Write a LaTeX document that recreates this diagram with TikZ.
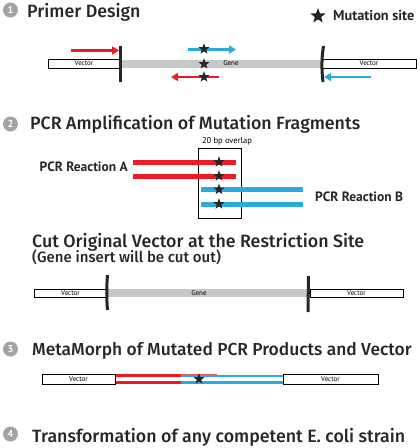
\documentclass[tikz,border=0pt]{standalone}
\usepackage{fontspec}
\setmainfont{PT Sans}
\newfontfamily\titlefont{Fira Sans Medium}
\usetikzlibrary{shapes.geometric,arrows.meta}
\definecolor{pcrred}{HTML}{ED1C24}
\definecolor{pcrblue}{HTML}{29ABE2}
\definecolor{genegray}{HTML}{C8C8C8}
\definecolor{stepgray}{HTML}{A3A3A3}
\tikzset{
	vecbox/.style={draw, line width=0.8pt, fill=white, inner sep=0pt, font=\fontsize{7}{8}\selectfont},
	genebar/.style={fill=genegray, inner sep=0pt},
	genelabel/.style={inner sep=0pt, font=\fontsize{7}{8}\selectfont},
	cutbar/.style={line width=3pt, color=black!85},
	mutstar/.style={star, star points=5, star point ratio=2.4, fill=black!85, inner sep=0pt, minimum size=11.5pt},
	steptitle/.style={anchor=base west, inner sep=0pt, text=black!85, font=\titlefont\fontsize{17.8}{20}\selectfont},
	stepnum/.style={circle, fill=stepgray, text=white, inner sep=0pt, minimum size=15pt, font=\bfseries\fontsize{10}{10}\selectfont},
	primer/.style={line width=2.6pt, -{Triangle[length=7pt,width=8pt]}},
	pcrline/.style={line width=5pt},
	boldlabel/.style={inner sep=0pt, text=black!85, font=\bfseries\fontsize{13.5}{15}\selectfont},
}

\begin{document}
\begin{tikzpicture}[x=1pt, y=-1pt]
			%%%%% START %%%%%
			\useasboundingbox (0, 0) rectangle (420, 448);
			
			% step 1: primer design
			\node[stepnum] (num1) at (10.5, 10) {1};
			\node[steptitle] (title1) at (27, 17) {Primer Design};
			\node[mutstar, minimum size=16pt] (legstar) at (318, 16) {};
			\node[boldlabel, anchor=base west, font=\bfseries\fontsize{14.3}{15}\selectfont] (legtext) at (333, 20.5) {Mutation site};
			
			\node[genebar, minimum width=202pt, minimum height=8pt] (gene1) at (221, 63.5) {};
			\node[genelabel] (genetext1) at (231, 63.5) {Gene};
			\node[vecbox, minimum width=72pt, minimum height=9pt] (vecL1) at (84, 63.5) {Vector};
			\node[vecbox, minimum width=94pt, minimum height=9pt] (vecR1) at (369, 63.5) {Vector};
			
			\draw[cutbar] (120.5, 46) -- (120.5, 82);
			\draw[cutbar] (323.5, 46) .. controls (321.5, 58) and (321.5, 70) .. (323, 82);
			
			\draw[primer, color=pcrred] (71, 50.5) -- (119, 50.5);
			\draw[primer, color=pcrblue] (188, 49.5) -- (236, 49.5);
			\draw[primer, color=pcrred] (219, 77) -- (171, 77);
			\draw[primer, color=pcrblue] (371, 77) -- (324, 77);
			
			\node[mutstar] (star1a) at (204, 49) {};
			\node[mutstar] (star1b) at (204, 64) {};
			\node[mutstar] (star1c) at (204, 77) {};
			
			% step 2: pcr amplification
			\node[stepnum] (num2) at (10.5, 124) {2};
			\node[steptitle] (title2) at (30, 129) {PCR Amplification of Mutation Fragments};
			\node[inner sep=0pt, font=\fontsize{8.5}{9}\selectfont] (overlap) at (227, 141) {20 bp overlap};
			\draw[line width=0.8pt] (198, 148) rectangle (241, 218);
			
			\draw[pcrline, color=pcrred] (133, 162) -- (236, 162);
			\draw[pcrline, color=pcrred] (133, 176) -- (236, 176);
			\draw[pcrline, color=pcrblue] (201, 189.5) -- (303, 189.5);
			\draw[pcrline, color=pcrblue] (201, 204) -- (303, 204);
			\foreach \y in {162, 176, 189.5, 204}
				\node[mutstar] at (219, \y) {};
			
			\node[boldlabel, anchor=east] (reactA) at (128, 167) {PCR Reaction A};
			\node[boldlabel, anchor=west] (reactB) at (315, 197) {PCR Reaction B};
			
			% cut original vector
			\node[steptitle] (title3) at (32, 247) {Cut Original Vector at the Restriction Site};
			\node[steptitle, font=\titlefont\fontsize{15}{16}\selectfont] (subtitle3) at (32, 262) {(Gene insert will be cut out)};
			
			\node[genebar, minimum width=203pt, minimum height=7.5pt] (gene3) at (208.5, 293) {};
			\node[genelabel] (genetext3) at (199, 293) {Gene};
			\node[vecbox, minimum width=73pt, minimum height=8pt] (vecL3) at (70.5, 293) {Vector};
			\node[vecbox, minimum width=93pt, minimum height=8pt] (vecR3) at (356.5, 293) {Vector};
			
			\draw[cutbar] (107.5, 275) .. controls (106.5, 287) and (106.5, 299) .. (107.5, 310);
			\draw[cutbar] (308.5, 276) -- (308, 312);
			
			% step 3: metamorph
			\node[stepnum] (num3) at (10.5, 349) {3};
			\node[steptitle, font=\titlefont\fontsize{17.4}{20}\selectfont] (title4) at (32, 355) {MetaMorph of Mutated PCR Products and Vector};
			
			\draw[line width=3pt, color=pcrred!75] (115, 375.7) -- (217, 375.7);
			\draw[line width=3pt, color=pcrred!75] (115, 382.3) -- (217, 382.3);
			\draw[line width=3pt, color=pcrred] (115, 375.7) -- (181, 375.7);
			\draw[line width=3pt, color=pcrred] (115, 382.3) -- (181, 382.3);
			\draw[line width=2.4pt, color=pcrblue] (181, 375.7) -- (283, 375.7);
			\draw[line width=2.4pt, color=pcrblue] (181, 382.3) -- (283, 382.3);
			\node[vecbox, minimum width=73pt, minimum height=10pt] (vecL4) at (78.5, 379) {Vector};
			\node[vecbox, minimum width=95pt, minimum height=10pt] (vecR4) at (330.5, 379) {Vector};
			\node[mutstar] (star4) at (199, 379) {};
			
			% step 4: transformation
			\node[stepnum] (num4) at (10.5, 434) {4};
			\node[steptitle] (title5) at (32, 442) {Transformation of any competent E. coli strain};
			
			%%%%% END %%%%%
\end{tikzpicture}
\end{document}
